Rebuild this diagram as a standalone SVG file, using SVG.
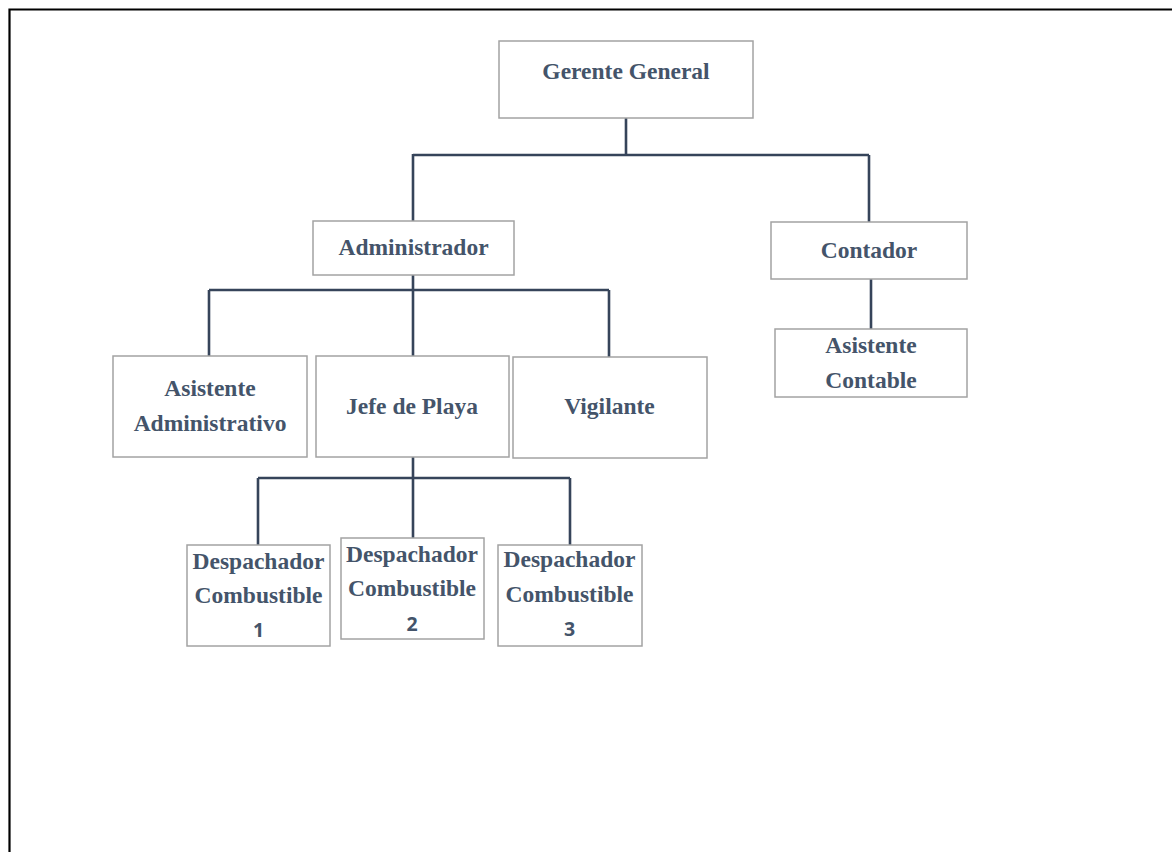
<svg xmlns="http://www.w3.org/2000/svg" width="1172" height="852" viewBox="0 0 1172 852">
<style>
.box{fill:#fff;stroke:#a3a3a3;stroke-width:1.5}
.t{font-family:"Liberation Serif","Times New Roman",serif;font-weight:bold;font-size:23.5px;fill:#44546a;text-anchor:middle}
.n{font-family:"Open Sans","Liberation Sans",sans-serif;font-weight:bold;font-size:19.5px;fill:#44546a;text-anchor:middle}
.c{fill:none;stroke:#36445a;stroke-width:2.6}
</style>
<rect width="1172" height="852" fill="#fff"/>
<path d="M9.5,860 V9.5 H1180" fill="none" stroke="#000" stroke-width="2.2"/>
<g id="connectors">
<path class="c" d="M626,118 V155 M413,155 H869 M413,154 V221 M869,155 V222"/>
<path class="c" d="M871,279 V329"/>
<path class="c" d="M413,275 V290 M209,290 H609 M209,290 V356 M413,290 V356 M609,290 V357"/>
<path class="c" d="M413,457 V478 M258,478 H570 M258,478 V545 M413,478 V538 M570,478 V545"/>
</g>
<g id="gerente"><rect class="box" x="499" y="41" width="254" height="77"/><text class="t" x="626" y="78.5">Gerente General</text></g>
<g id="administrador"><rect class="box" x="313" y="221" width="201" height="54"/><text class="t" x="413.5" y="255">Administrador</text></g>
<g id="contador"><rect class="box" x="771" y="222" width="196" height="57"/><text class="t" x="869" y="258">Contador</text></g>
<g id="asistente-contable"><rect class="box" x="775" y="329" width="192" height="68"/><text class="t" x="871" y="353">Asistente</text><text class="t" x="871" y="387.5">Contable</text></g>
<g id="asistente-administrativo"><rect class="box" x="113" y="356" width="194" height="101"/><text class="t" x="210" y="396">Asistente</text><text class="t" x="210" y="430.5">Administrativo</text></g>
<g id="jefe-playa"><rect class="box" x="316" y="356" width="193" height="101"/><text class="t" x="412" y="413.5">Jefe de Playa</text></g>
<g id="vigilante"><rect class="box" x="513" y="357" width="194" height="101"/><text class="t" x="609.5" y="414">Vigilante</text></g>
<g id="despachador1"><rect class="box" x="187" y="545" width="143" height="101"/><text class="t" x="258.5" y="569">Despachador</text><text class="t" x="258.5" y="603">Combustible</text><text class="n" x="258.5" y="637">1</text></g>
<g id="despachador2"><rect class="box" x="341" y="538" width="143" height="101"/><text class="t" x="412" y="562">Despachador</text><text class="t" x="412" y="595.5">Combustible</text><text class="n" x="412" y="631">2</text></g>
<g id="despachador3"><rect class="box" x="498" y="545" width="144" height="101"/><text class="t" x="569.5" y="567">Despachador</text><text class="t" x="569.5" y="602">Combustible</text><text class="n" x="569.5" y="636">3</text></g>
</svg>
